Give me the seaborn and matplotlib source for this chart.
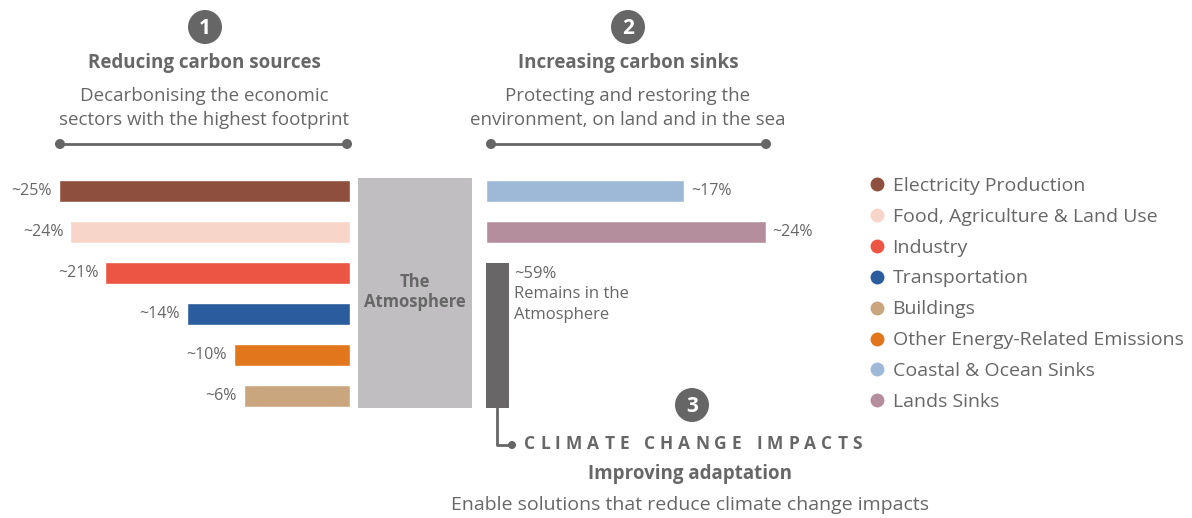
import matplotlib
matplotlib.use("Agg")
import matplotlib.pyplot as plt
import matplotlib.transforms as mtransforms
from matplotlib.patches import Circle, Rectangle
from matplotlib.lines import Line2D
import seaborn as sns
import pandas as pd

# ---------------- data ----------------
source_cats = ["Electricity Production", "Food, Agriculture & Land Use", "Industry",
               "Transportation", "Other Energy-Related Emissions", "Buildings"]
source_vals = [25, 24, 21, 14, 10, 9.1]          # bar lengths as drawn
source_labels = ["~25%", "~24%", "~21%", "~14%", "~10%", "~6%"]

sink_cats = ["Coastal & Ocean Sinks", "Lands Sinks"]
sink_vals = [17, 24]
sink_labels = ["~17%", "~24%"]

remains_label = "~59%\nRemains in the\nAtmosphere"

legend_order = ["Electricity Production", "Food, Agriculture & Land Use", "Industry",
                "Transportation", "Buildings", "Other Energy-Related Emissions",
                "Coastal & Ocean Sinks", "Lands Sinks"]
colors = {
    "Electricity Production": "#8e4f3e",
    "Food, Agriculture & Land Use": "#f8d5c9",
    "Industry": "#ec5443",
    "Transportation": "#2a5c9e",
    "Buildings": "#c9a67e",
    "Other Energy-Related Emissions": "#e1761c",
    "Coastal & Ocean Sinks": "#9eb9d8",
    "Lands Sinks": "#b58e9d",
}
ATM = "#c0bec0"
DARK = "#686667"
TXT = "#676767"

# ---------------- figure ----------------
sns.set_theme(style="white")
plt.rcParams["font.family"] = ["Open Sans", "DejaVu Sans"]

W, H = 1192, 518
fig = plt.figure(figsize=(W / 100, H / 100), dpi=100)
fig.patch.set_facecolor("white")
T = mtransforms.Affine2D().scale(1 / 100, -1 / 100).translate(0, H / 100) + fig.dpi_scale_trans


def ax_rect(x0, y0, x1, y1):
    return [x0 / W, 1 - y1 / H, (x1 - x0) / W, (y1 - y0) / H]


PX_PER_PCT = 11.65
TOP, BOT = 170.5, 416.5   # rows 0..5 centred at 191 + 41*i

# left axes (sources)
L0, L1 = 0, 350
axL = fig.add_axes(ax_rect(L0, TOP, L1, BOT))
dfL = pd.DataFrame({"cat": source_cats, "val": source_vals})
sns.barplot(data=dfL, x="val", y="cat", hue="cat", palette=colors, orient="h",
            width=0.54, legend=False, ax=axL, saturation=1)
axL.set_xlim((L1 - L0) / PX_PER_PCT, 0)
axL.set_ylim(5.5, -0.5)
for i, (v, lab) in enumerate(zip(source_vals, source_labels)):
    axL.text(v + 0.6, i, lab, ha="right", va="center", fontsize=11.5, color=TXT)

# right axes (sinks)
R0, R1 = 486, 840
axR = fig.add_axes(ax_rect(R0, TOP, R1, BOT))
dfR = pd.DataFrame({"cat": sink_cats, "val": sink_vals})
sns.barplot(data=dfR, x="val", y="cat", hue="cat", palette=colors, orient="h",
            width=0.54, legend=False, ax=axR, saturation=1)
axR.set_xlim(0, (R1 - R0) / PX_PER_PCT)
axR.set_ylim(5.5, -0.5)
for i, (v, lab) in enumerate(zip(sink_vals, sink_labels)):
    axR.text(v + 0.6, i, lab, ha="left", va="center", fontsize=11.5, color=TXT)
# remaining-in-atmosphere bar
axR.bar(0, 5.29 - 1.76, bottom=1.76, width=23 / PX_PER_PCT, align="edge",
        color=DARK, linewidth=0)
axR.text(28 / PX_PER_PCT, 1.83, remains_label, ha="left", va="top",
         fontsize=12, color=TXT, linespacing=1.37)

for ax in (axL, axR):
    ax.set_axis_off()
    ax.patch.set_alpha(0)

# atmosphere block
fig.add_artist(Rectangle((358, 178), 114, 230, transform=T, color=ATM, lw=0))
fig.text(415, 292, "The\nAtmosphere", transform=T, ha="center", va="center",
         fontsize=12, fontweight="bold", color=TXT, linespacing=1.15)


def badge(x, y, s):
    fig.add_artist(Circle((x, y), 17, transform=T, color="#666666", lw=0))
    fig.text(x, y + 1, s, transform=T, ha="center", va="center", fontsize=15,
             fontweight="bold", color="white")


def bracket(x0, x1, y):
    fig.add_artist(Line2D([x0, x1], [y, y], transform=T, color="#666666", lw=2))
    for x in (x0, x1):
        fig.add_artist(Circle((x, y), 5, transform=T, color="#666666", lw=0))


# section 1
badge(205, 27, "1")
fig.text(204, 63, "Reducing carbon sources", transform=T, ha="center", va="center",
         fontsize=13.5, fontweight="bold", color=TXT)
fig.text(204, 108, "Decarbonising the economic\nsectors with the highest footprint",
         transform=T, ha="center", va="center", fontsize=13.5, color=TXT, linespacing=1.36)
bracket(60, 347, 144)

# section 2
badge(628, 27, "2")
fig.text(628, 63, "Increasing carbon sinks", transform=T, ha="center", va="center",
         fontsize=13.5, fontweight="bold", color=TXT)
fig.text(628, 108, "Protecting and restoring the\nenvironment, on land and in the sea",
         transform=T, ha="center", va="center", fontsize=13.5, color=TXT, linespacing=1.36)
bracket(491, 766, 144)

# section 3
badge(692, 405, "3")
fig.add_artist(Line2D([497, 497, 512], [408, 445, 445], transform=T, color="#666666", lw=2))
fig.add_artist(Circle((512, 445), 4, transform=T, color="#666666", lw=0))

# letter-spaced heading
heading = "CLIMATE CHANGE IMPACTS"
x0, x1 = 524, 862
renderer = fig.canvas.get_renderer()
chars = []
for ch in heading:
    t = fig.text(0, 444, ch if ch != " " else "\u00a0", transform=T, ha="left", va="center",
                 fontsize=12.5, fontweight="bold", color=TXT)
    chars.append(t)
widths = [t.get_window_extent(renderer).width for t in chars]
track = (x1 - x0 - sum(widths)) / (len(chars) - 1)
x = x0
for t, w in zip(chars, widths):
    t.set_x(x)
    x += w + track

fig.text(690, 474, "Improving adaptation", transform=T, ha="center", va="center",
         fontsize=13.5, fontweight="bold", color=TXT)
fig.text(690, 505, "Enable solutions that reduce climate change impacts", transform=T,
         ha="center", va="center", fontsize=14, color=TXT)

# legend
handles = [Line2D([], [], marker="o", linestyle="none", markersize=10,
                  markerfacecolor=colors[c], markeredgewidth=0, label=c)
           for c in legend_order]
leg = fig.legend(handles=handles, loc="upper left", bbox_to_anchor=(867.3 / W, 1 - 176.7 / H),
                 frameon=False, fontsize=14, labelcolor=TXT, handletextpad=0.3,
                 labelspacing=0.665, handlelength=1.0, borderpad=0, borderaxespad=0)

fig.savefig("out.png", dpi=100, facecolor="white")
